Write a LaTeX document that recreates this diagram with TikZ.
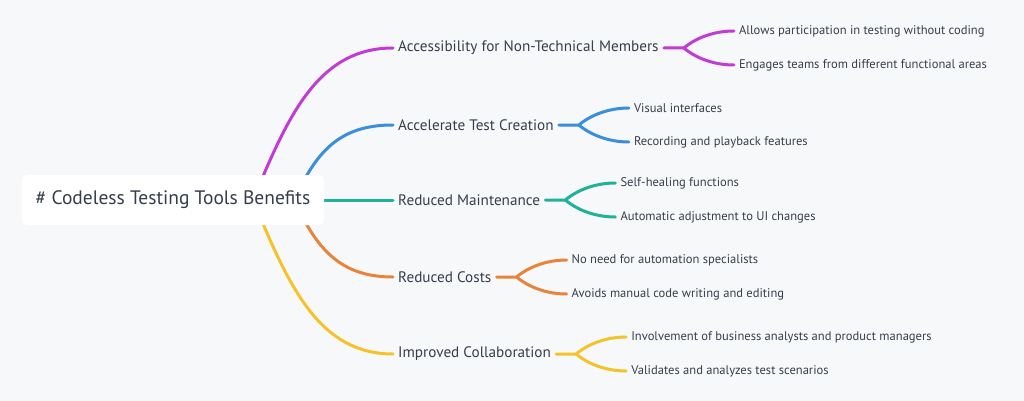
\documentclass[tikz,border=0pt]{standalone}
\usepackage{fontspec}
\setmainfont{PT Sans}
\usetikzlibrary{positioning, backgrounds, calc}
\definecolor{bgGrey}{HTML}{F7F8FA}
\definecolor{txtGrey}{HTML}{363E4C}
\definecolor{brMag}{HTML}{C23BD6}
\definecolor{brBlue}{HTML}{3A8EDC}
\definecolor{brTeal}{HTML}{1FB29B}
\definecolor{brOrange}{HTML}{E8843A}
\definecolor{brYellow}{HTML}{F6C22A}

\tikzset{
  rootbox/.style={fill=white, rounded corners=5pt, minimum width=302pt, minimum height=50pt,
    text=txtGrey, font=\fontsize{19.5}{22}\selectfont},
  topic/.style={anchor=west, inner xsep=5pt, inner ysep=2pt, text=txtGrey, font=\fontsize{15.2}{17}\selectfont},
  leaf/.style={anchor=west, inner xsep=5pt, inner ysep=2pt, text=txtGrey, font=\fontsize{12.55}{14}\selectfont},
  branch/.style={line width=3pt, line cap=round}
}

\begin{document}
\begin{tikzpicture}[x=1pt, y=-1pt]
  \useasboundingbox (0,0) rectangle (1024,401);
  \node[rootbox] (root) at (173,200) {\# Codeless Testing Tools Benefits};

  % main topics
  \node[topic] (acc) at (393,48)  {Accessibility for Non-Technical Members};
  \node[topic] (acl) at (393,125) {Accelerate Test Creation};
  \node[topic] (rmt) at (393,200) {Reduced Maintenance};
  \node[topic] (rct) at (393,277) {Reduced Costs};
  \node[topic] (col) at (393,354) {Improved Collaboration};

  % details
  \node[leaf] (acc1) at ([shift={(70,-17)}]acc.east) {Allows participation in testing without coding};
  \node[leaf] (acc2) at ([shift={(70,17)}]acc.east)  {Engages teams from different functional areas};
  \node[leaf] (acl1) at ([shift={(70,-17)}]acl.east) {Visual interfaces};
  \node[leaf] (acl2) at ([shift={(70,17)}]acl.east)  {Recording and playback features};
  \node[leaf] (rmt1) at ([shift={(70,-17)}]rmt.east) {Self-healing functions};
  \node[leaf] (rmt2) at ([shift={(70,17)}]rmt.east)  {Automatic adjustment to UI changes};
  \node[leaf] (rct1) at ([shift={(70,-17)}]rct.east) {No need for automation specialists};
  \node[leaf] (rct2) at ([shift={(70,17)}]rct.east)  {Avoids manual code writing and editing};
  \node[leaf] (col1) at ([shift={(70,-17)}]col.east) {Involvement of business analysts and product managers};
  \node[leaf] (col2) at ([shift={(70,17)}]col.east)  {Validates and analyzes test scenarios};

  \begin{scope}[on background layer]
    \fill[bgGrey] (0,0) rectangle (1024,401);
    % root to topics
    \draw[branch, brMag] ([shift={(-69,-5)}]root.east) .. controls +(35,-85) and +(-72,0) .. (acc.west);
    \draw[branch, brBlue] ([shift={(-26,-8)}]root.east) .. controls +(22,-47) and +(-47,0) .. (acl.west);
    \draw[branch, brTeal] (root.east) -- (rmt.west);
    \draw[branch, brOrange] ([shift={(-26,8)}]root.east) .. controls +(22,47) and +(-47,0) .. (rct.west);
    \draw[branch, brYellow] ([shift={(-69,5)}]root.east) .. controls +(35,85) and +(-72,0) .. (col.west);
    % topics to details
    \draw[branch, brMag] (acc.east) -- ++(20,0) coordinate (accf) .. controls +(12,-10) and +(-20,0) .. (acc1.west);
    \draw[branch, brMag] (accf) .. controls +(12,10) and +(-20,0) .. (acc2.west);
    \draw[branch, brBlue] (acl.east) -- ++(20,0) coordinate (aclf) .. controls +(12,-10) and +(-20,0) .. (acl1.west);
    \draw[branch, brBlue] (aclf) .. controls +(12,10) and +(-20,0) .. (acl2.west);
    \draw[branch, brTeal] (rmt.east) -- ++(20,0) coordinate (rmtf) .. controls +(12,-10) and +(-20,0) .. (rmt1.west);
    \draw[branch, brTeal] (rmtf) .. controls +(12,10) and +(-20,0) .. (rmt2.west);
    \draw[branch, brOrange] (rct.east) -- ++(20,0) coordinate (rctf) .. controls +(12,-10) and +(-20,0) .. (rct1.west);
    \draw[branch, brOrange] (rctf) .. controls +(12,10) and +(-20,0) .. (rct2.west);
    \draw[branch, brYellow] (col.east) -- ++(20,0) coordinate (colf) .. controls +(12,-10) and +(-20,0) .. (col1.west);
    \draw[branch, brYellow] (colf) .. controls +(12,10) and +(-20,0) .. (col2.west);
  \end{scope}
\end{tikzpicture}
\end{document}
